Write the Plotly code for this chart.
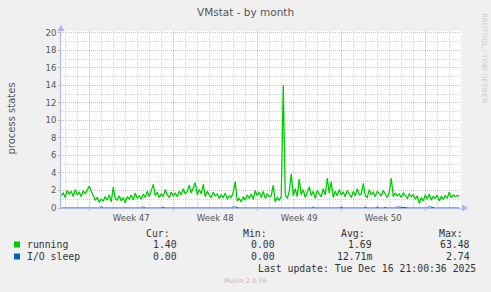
import plotly.graph_objects as go
import pandas as pd

# ---------------- data ----------------
title = "VMstat - by month"
y_title = "process states"
series_names = ["running", "I/O sleep"]
series_colors = ["#00cc00", "#0066b3"]

start_time = "2025-11-14 16:00"
step_hours = 4

running = [
    1.4, 1.7, 1.2, 2.0, 1.6, 1.9, 1.3, 2.1, 1.5, 1.8,
    1.3, 2.0, 1.6, 2.1, 2.5, 1.9, 1.4, 0.9, 1.2, 0.7,
    1.0, 0.8, 1.3, 0.9, 1.5, 0.7, 2.4, 1.1, 0.9, 1.4,
    0.8, 1.2, 0.6, 1.3, 1.0, 1.5, 0.9, 1.7, 1.1, 1.4,
    1.0, 1.6, 1.2, 1.9, 1.3, 2.0, 2.7, 1.4, 1.8, 1.2,
    1.6, 1.3, 2.1, 1.5, 1.2, 1.8, 1.4, 1.7, 1.3, 1.9,
    1.5, 2.2, 1.6, 1.9, 2.6, 1.7, 2.4, 2.9, 1.5, 2.1,
    1.6, 2.7, 1.3, 1.9, 1.5, 1.2, 1.8, 1.4, 1.6, 1.1,
    1.5, 1.2, 1.7, 1.0, 1.4, 1.2, 1.8, 3.0, 0.8, 1.1,
    0.7, 1.3, 0.9, 1.5, 1.1, 1.6, 1.0, 2.0, 1.4, 1.8,
    1.2, 1.9, 1.1, 1.6, 1.3, 1.4, 2.6, 0.7, 1.2, 0.9,
    1.3, 14.0, 1.5, 1.1, 1.9, 3.9, 1.4, 2.2, 1.3, 3.3,
    1.5, 2.1, 1.2, 1.8, 2.4, 1.4, 1.9, 1.1, 2.0, 1.6,
    1.3, 2.2, 1.5, 3.4, 1.7, 3.0, 1.2, 1.9, 1.4, 2.1,
    1.5, 1.8, 1.3, 2.0, 1.6, 1.2, 1.9, 1.4, 2.2, 1.5,
    1.6, 2.8, 1.4, 1.2, 2.1, 1.5, 1.8, 1.3, 1.9, 1.6,
    1.4, 2.0, 1.5, 1.2, 1.8, 3.4, 1.3, 1.7, 1.4, 1.6,
    1.2, 1.7, 1.4, 1.1, 1.6, 1.3, 1.5, 1.0, 1.4, 0.5,
    1.2, 0.8, 1.5, 1.0, 1.6, 0.9, 1.3, 1.1, 1.5, 0.8,
    1.3, 1.0, 1.4, 1.1, 1.8, 1.2, 1.5, 1.3, 1.4, 1.4,
]

io_sleep = [
    0, 0, 0, 0, 0, 0, 0, 0, 0, 0, 0, 0, 0, 0, 0, 0, 0, 0, 0, 0,
    0.15, 0, 0, 0, 0, 0, 0, 0, 0, 0, 0, 0, 0, 0, 0, 0, 0, 0, 0, 0,
    0, 0.12, 0, 0, 0, 0, 0, 0, 0, 0, 0, 0.1, 0, 0, 0, 0, 0, 0, 0, 0,
    0, 0, 0, 0, 0, 0, 0, 0, 0, 0, 0, 0, 0, 0, 0, 0, 0, 0, 0, 0,
    0, 0, 0, 0, 0, 0, 0.15, 0.1, 0, 0, 0, 0, 0, 0, 0, 0, 0, 0, 0, 0,
    0, 0, 0, 0, 0, 0, 0, 0, 0, 0, 0, 0, 0, 0, 0, 0, 0, 0, 0, 0,
    0, 0, 0, 0, 0, 0, 0.12, 0, 0, 0, 0, 0, 0, 0, 0, 0, 0, 0, 0, 0,
    0.12, 0, 0, 0, 0, 0, 0, 0, 0, 0, 0, 0, 0.1, 0, 0, 0, 0, 0, 0.12, 0,
    0, 0, 0.1, 0, 0, 0, 0, 0, 0.12, 0.1, 0, 0, 0, 0, 0, 0, 0, 0, 0, 0,
    0, 0, 0, 0, 0.15, 0.1, 0, 0, 0, 0, 0, 0, 0, 0, 0, 0, 0, 0, 0, 0,
]

legend_headers = ["Cur:", "Min:", "Avg:", "Max:"]
legend_values = [
    ["1.40", "0.00", "1.69", "63.48"],
    ["0.00", "0.00", "12.71m", "2.74"],
]
last_update = "Last update: Tue Dec 16 21:00:36 2025"
munin_version = "Munin 2.0.76"
watermark = "RRDTOOL / TOBI OETIKER"

x_range = ["2025-11-14 15:30", "2025-12-17 23:30"]
y_range = [0, 20.2]

# ---------------- figure ----------------
times = pd.date_range(start=start_time, periods=len(running), freq=f"{step_hours}h")

W, H = 491, 292
ML, MR, MT, MB = 61, 30, 31, 84
PW, PH = W - ML - MR, H - MT - MB

def px(x):
    return (x - ML) / PW

def py(y):
    return (H - MB - y) / PH

fig = go.Figure()
fig.add_trace(go.Scatter(x=times, y=io_sleep, mode="lines",
                         line=dict(color=series_colors[1], width=1), name=series_names[1]))
fig.add_trace(go.Scatter(x=times, y=running, mode="lines",
                         line=dict(color=series_colors[0], width=1.3), name=series_names[0]))

grid_red = "rgba(235,100,100,0.5)"
grid_gray = "rgba(150,150,150,0.4)"
axis_blue = "#a8b8ee"
font_fam = "DejaVu Sans"

fig.update_layout(
    width=W, height=H,
    margin=dict(l=ML, r=MR, t=MT, b=MB, pad=0, autoexpand=False),
    paper_bgcolor="#f0f0f0",
    plot_bgcolor="#ffffff",
    showlegend=False,
    font=dict(family=font_fam, color="#555555"),
    xaxis=dict(
        type="date", range=x_range, automargin=False,
        dtick=7 * 86400000, tick0="2025-11-17",
        ticklabelmode="period", tickformat="Week %V",
        tickfont=dict(size=8.5, color="#555555"),
        showgrid=True, gridcolor=grid_red, griddash="1px,1px", gridwidth=1,
        ticks="outside", ticklen=2, tickcolor=grid_red,
        minor=dict(dtick=86400000, tick0="2025-11-17", showgrid=True,
                   gridcolor=grid_gray, griddash="1px,1px", ticks=""),
        showline=True, linecolor=axis_blue, linewidth=1,
        zeroline=False, layer="above traces", fixedrange=True,
    ),
    yaxis=dict(
        range=y_range, dtick=2, tick0=0, automargin=False,
        tickfont=dict(size=8.5, color="#555555"),
        showgrid=True, gridcolor=grid_red, griddash="1px,1px", gridwidth=1,
        ticks="outside", ticklen=2, tickcolor=grid_red,
        minor=dict(dtick=1, showgrid=True, gridcolor=grid_gray, griddash="1px,1px", ticks=""),
        showline=True, linecolor=axis_blue, linewidth=1,
        zeroline=False, layer="above traces", fixedrange=True,
    ),
)

ann = []
ann.append(dict(text=title, x=px(245), y=py(12), xref="paper", yref="paper",
                xanchor="center", yanchor="middle",
                showarrow=False, font=dict(size=10.5, color="#555555")))
ann.append(dict(text=y_title, x=px(10.5), y=py(119), xref="paper", yref="paper",
                xanchor="center", yanchor="middle", textangle=-90,
                showarrow=False, font=dict(size=10, color="#555555")))
ann.append(dict(text=watermark, x=px(484), y=py(58), xref="paper", yref="paper",
                xanchor="center", yanchor="middle",
                showarrow=False, textangle=90, font=dict(size=7, color="#cccccc")))
mono = "DejaVu Sans Mono"
col_right = [178, 276, 373, 471]
head_right = [171, 268, 366, 464]
for h, xr in zip(legend_headers, head_right):
    ann.append(dict(text=h, x=px(xr), y=py(233), xref="paper", yref="paper",
                    xanchor="right", yanchor="middle",
                    showarrow=False, font=dict(family=mono, size=9.8, color="#333333"), borderpad=0))
row_y = [244.5, 256.5]
for name, vals, ry in zip(series_names, legend_values, row_y):
    ann.append(dict(text=name, x=px(26), y=py(ry), xref="paper", yref="paper",
                    xanchor="left", yanchor="middle",
                    showarrow=False, font=dict(family=mono, size=9.8, color="#333333"), borderpad=0))
    for v, xr in zip(vals, col_right):
        ann.append(dict(text=v, x=px(xr), y=py(ry), xref="paper", yref="paper",
                        xanchor="right", yanchor="middle",
                        showarrow=False, font=dict(family=mono, size=9.8, color="#333333"), borderpad=0))
ann.append(dict(text=last_update, x=px(477), y=py(268.5), xref="paper", yref="paper",
                xanchor="right", yanchor="middle",
                showarrow=False, font=dict(family=mono, size=9.8, color="#333333"), borderpad=0))
ann.append(dict(text=munin_version, x=px(245), y=py(281), xref="paper", yref="paper",
                xanchor="center", yanchor="middle",
                showarrow=False, font=dict(size=6.5, color="#bbbbbb")))
fig.update_layout(annotations=ann)

shapes = []
for c, ry in zip(series_colors, row_y):
    shapes.append(dict(type="rect", xref="paper", yref="paper",
                       x0=px(14), x1=px(20), y0=py(ry + 3), y1=py(ry - 3),
                       fillcolor=c, line=dict(width=0)))
# axis arrows
shapes.append(dict(type="path", xref="paper", yref="paper", xsizemode="pixel", ysizemode="pixel",
                   xanchor=0, yanchor=1, path="M -3.5,0 L 3.5,0 L 0,6 Z",
                   fillcolor=axis_blue, line=dict(width=0)))
shapes.append(dict(type="path", xref="paper", yref="paper", xsizemode="pixel", ysizemode="pixel",
                   xanchor=1, yanchor=0, path="M 1,-3.5 L 1,3.5 L 7,0 Z",
                   fillcolor=axis_blue, line=dict(width=0)))
fig.update_layout(shapes=shapes)

fig.write_html("out.html")
